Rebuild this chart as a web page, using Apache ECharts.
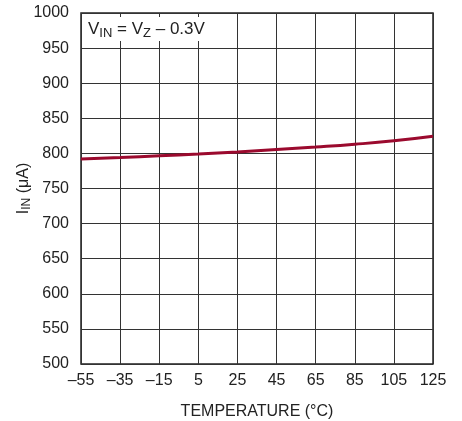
<!DOCTYPE html>
<html>
<head>
<meta charset="utf-8">
<script src="https://cdn.jsdelivr.net/npm/echarts@6/dist/echarts.min.js"></script>
<style>
  html, body { margin: 0; padding: 0; background: #fff; }
  #chart { width: 462px; height: 421px; }
</style>
</head>
<body>
<div id="chart"></div>
<script>
// Input current versus temperature
const temperatures = [-55, -35, -15, 5, 25, 45, 65, 85, 105, 125];
const inputCurrent = [792, 794, 796.5, 799, 802, 805.5, 809, 813, 818, 824.5];
const xTicks = [-55, -35, -15, 5, 25, 45, 65, 85, 105, 125];
const yTicks = [500, 550, 600, 650, 700, 750, 800, 850, 900, 950, 1000];

const FONT = '"Liberation Sans", Arial, sans-serif';
const TEXT = '#222';

const chart = echarts.init(document.getElementById('chart'), null, { renderer: 'canvas' });

chart.setOption({
  animation: false,
  grid: {
    left: 81, top: 13, right: 29, bottom: 57,
    containLabel: false, outerBoundsMode: 'none',
    show: true, borderColor: '#222', borderWidth: 1.5
  },
  xAxis: {
    type: 'value',
    min: xTicks[0], max: xTicks[xTicks.length - 1], interval: 20,
    name: 'TEMPERATURE (°C)',
    nameLocation: 'middle', nameGap: 40, nameMoveOverlap: false,
    nameTextStyle: { fontFamily: FONT, fontSize: 16, color: TEXT },
    axisLine: { show: false },
    axisTick: { show: false },
    axisLabel: {
      fontFamily: FONT, fontSize: 16, color: TEXT, margin: 9,
      formatter: v => (v < 0 ? '\u2013' + Math.abs(v) : String(v))
    },
    splitLine: { show: true, lineStyle: { color: '#333', width: 1 } }
  },
  yAxis: {
    type: 'value',
    min: yTicks[0], max: yTicks[yTicks.length - 1], interval: 50,
    name: '{m|I}{s|IN}{m| (μA)}',
    nameLocation: 'middle', nameGap: 48, nameRotate: 90, nameMoveOverlap: false,
    nameTextStyle: {
      rich: {
        m: { fontFamily: FONT, fontSize: 16, color: TEXT },
        s: { fontFamily: FONT, fontSize: 12, color: TEXT, verticalAlign: 'bottom', padding: [6, 0, 0, 0] }
      }
    },
    axisLine: { show: false },
    axisTick: { show: false },
    axisLabel: { fontFamily: FONT, fontSize: 16, color: TEXT, margin: 12, formatter: v => String(v) },
    splitLine: { show: true, lineStyle: { color: '#333', width: 1 } }
  },
  series: [{
    type: 'line',
    data: temperatures.map((t, i) => [t, inputCurrent[i]]),
    smooth: true,
    showSymbol: false,
    lineStyle: { color: '#9b0a2e', width: 3 },
    z: 5
  }],
  graphic: [{
    type: 'group',
    left: 82, top: 17, z: 100,
    children: [
      { type: 'rect', z: 100, shape: { x: 0, y: 0, width: 128, height: 24 }, style: { fill: '#fff' } },
      {
        type: 'text', z: 101, x: 6, y: 1,
        style: {
          text: '{m|V}{s|IN}{m| = V}{s|Z}{m| \u2013 0.3V}',
          rich: {
            m: { fontFamily: FONT, fontSize: 17, fill: TEXT, height: 22 },
            s: { fontFamily: FONT, fontSize: 13, fill: TEXT, padding: [8, 0, 0, 0] }
          }
        }
      }
    ]
  }]
});
</script>
</body>
</html>
